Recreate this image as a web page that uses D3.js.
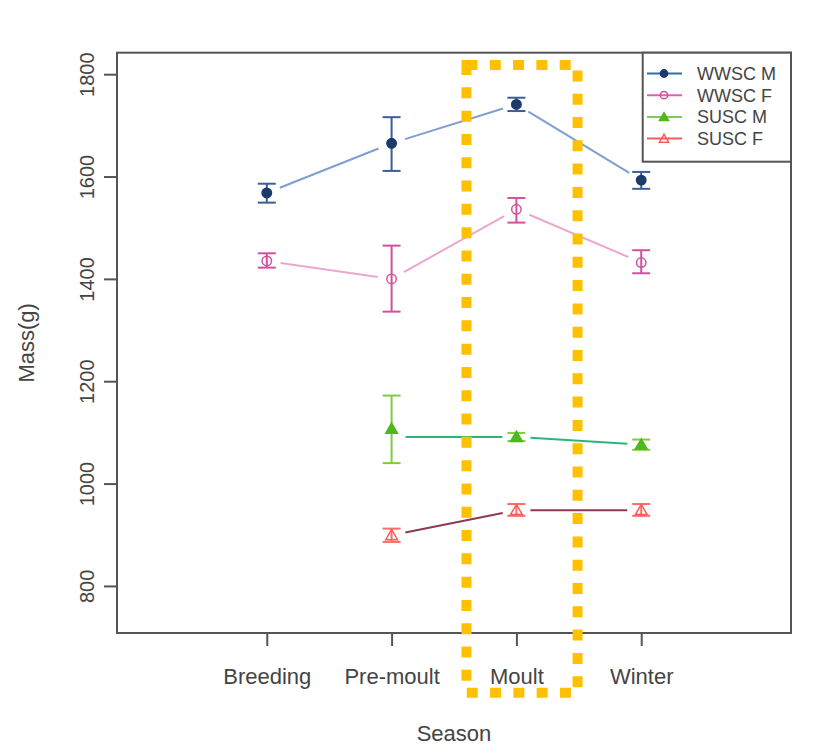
<!DOCTYPE html>
<html>
<head>
<meta charset="utf-8">
<script src="https://cdn.jsdelivr.net/npm/d3@7"></script>
<style>
	body { margin: 0; background: #fff; }
	text { font-family: "Liberation Sans", Arial, sans-serif; fill: #444; }
</style>
</head>
<body>
<div id="chart"></div>
<script>
// DATA
const seasons = ['Breeding', 'Pre-moult', 'Moult', 'Winter'];
const yTicks = [800, 1000, 1200, 1400, 1600, 1800];
const seriesNames = ['WWSC M', 'WWSC F', 'SUSC M', 'SUSC F'];
// means per season (null = not sampled)
const wwscM = [1568, 1665, 1741, 1593];
const wwscF = [1435, 1400, 1536, 1432];
const suscM = [null, 1107, 1091, 1076];
const suscF = [null, 899, 948, 948];
// error bar bounds
const wwscMLow = [1549, 1611, 1728, 1576];
const wwscMHigh = [1586, 1716, 1754, 1609];
const wwscFLow = [1422, 1336, 1510, 1411];
const wwscFHigh = [1450, 1465, 1558, 1456];
const suscMLow = [null, 1040, 1083, 1066];
const suscMHigh = [null, 1172, 1099, 1086];
const suscFLow = [null, 886, 937, 937];
const suscFHigh = [null, 912, 960, 960];
// connecting line values (SUSC M line starts at the moult level)
const suscMLine = [null, 1091, 1091, 1076];

const W = 813, H = 753;
const margin = { top: 52.7, right: 22, bottom: 120, left: 117 };

const svg = d3.select('#chart').append('svg')
	.attr('width', W).attr('height', H);

// R style axis ranges: xlim 0..5, ylim 750..1800, each padded by 4%
const x = d3.scaleLinear().domain([-0.2, 5.2]).range([margin.left, W - margin.right]);
const y = d3.scaleLinear().domain([708, 1842]).range([H - margin.bottom, margin.top]);

const series = [
	{ name: seriesNames[0], mean: wwscM, lo: wwscMLow, hi: wwscMHigh, line: wwscM,
		lineColor: '#7f9fd0', ptColor: '#1c3a6a', errColor: '#3a5f95', legColor: '#2f6f9f', shape: 'circle', filled: true },
	{ name: seriesNames[1], mean: wwscF, lo: wwscFLow, hi: wwscFHigh, line: wwscF,
		lineColor: '#eaa8cf', ptColor: '#d4509c', errColor: '#d4509c', legColor: '#e060b0', shape: 'circle', filled: false },
	{ name: seriesNames[2], mean: suscM, lo: suscMLow, hi: suscMHigh, line: suscMLine,
		lineColor: '#2fb37a', ptColor: '#4fb81a', errColor: '#80cc40', legColor: '#80c860', shape: 'triangle', filled: true },
	{ name: seriesNames[3], mean: suscF, lo: suscFLow, hi: suscFHigh, line: suscF,
		lineColor: '#8e3a4c', ptColor: '#ff5a5a', errColor: '#ff6a6a', legColor: '#ee6060', shape: 'triangle', filled: false }
];

const sx = i => x(i + 1);

// connecting lines with gaps round the points (type = "b")
const gap = 14;
series.forEach(s => {
	for (let i = 0; i < seasons.length - 1; i++) {
		if (s.line[i] === null || s.line[i + 1] === null) continue;
		const x1 = sx(i), y1 = y(s.line[i]), x2 = sx(i + 1), y2 = y(s.line[i + 1]);
		const len = Math.hypot(x2 - x1, y2 - y1);
		const ux = (x2 - x1) / len, uy = (y2 - y1) / len;
		svg.append('line')
			.attr('x1', x1 + ux * gap).attr('y1', y1 + uy * gap)
			.attr('x2', x2 - ux * gap).attr('y2', y2 - uy * gap)
			.attr('stroke', s.lineColor).attr('stroke-width', 2);
	}
});

// error bars
const cap = 9;
series.forEach(s => {
	const idx = d3.range(seasons.length).filter(i => s.mean[i] !== null);
	const g = svg.append('g').attr('stroke', s.errColor).attr('stroke-width', 2);
	idx.forEach(i => {
		g.append('line').attr('x1', sx(i)).attr('x2', sx(i)).attr('y1', y(s.lo[i])).attr('y2', y(s.hi[i]));
		g.append('line').attr('x1', sx(i) - cap).attr('x2', sx(i) + cap).attr('y1', y(s.lo[i])).attr('y2', y(s.lo[i]));
		g.append('line').attr('x1', sx(i) - cap).attr('x2', sx(i) + cap).attr('y1', y(s.hi[i])).attr('y2', y(s.hi[i]));
	});
});

function marker(g, s, cx, cy, scale = 1) {
	const sym = s.shape === 'circle' ? d3.symbolCircle : d3.symbolTriangle;
	const size = (s.shape === 'circle' ? 70 : 60) * scale;
	g.append('path')
		.attr('d', d3.symbol().type(sym).size(size)())
		.attr('transform', `translate(${cx},${cy + (s.shape === 'triangle' ? 1 : 0)})`)
		.attr('fill', s.filled ? s.ptColor : 'none')
		.attr('stroke', s.ptColor)
		.attr('stroke-width', 1.5);
}

// points
series.forEach(s => {
	const g = svg.append('g');
	s.mean.forEach((v, i) => { if (v !== null) marker(g, s, sx(i), y(v)); });
});

// box
svg.append('rect')
	.attr('x', margin.left).attr('y', margin.top)
	.attr('width', W - margin.right - margin.left)
	.attr('height', H - margin.bottom - margin.top)
	.attr('fill', 'none').attr('stroke', '#555').attr('stroke-width', 2);

// axes
const xAxis = svg.append('g')
	.attr('transform', `translate(0,${H - margin.bottom})`)
	.call(d3.axisBottom(x).tickValues([1, 2, 3, 4]).tickFormat(d => seasons[d - 1]).tickSize(13).tickPadding(22));
xAxis.select('.domain').remove();
xAxis.selectAll('line').attr('stroke', '#555').attr('stroke-width', 2);
xAxis.selectAll('text').style('font-size', '22px').style('fill', '#444');

const yAxis = svg.append('g')
	.attr('transform', `translate(${margin.left},0)`)
	.call(d3.axisLeft(y).tickValues(yTicks).tickSize(13).tickFormat(d3.format('d')));
yAxis.select('.domain').remove();
yAxis.selectAll('line').attr('stroke', '#555').attr('stroke-width', 2);
yAxis.selectAll('text')
	.attr('x', null).attr('dy', null)
	.attr('transform', 'translate(-30,0) rotate(-90)')
	.attr('text-anchor', 'middle')
	.attr('dy', '0.35em')
	.style('font-size', '20px').style('fill', '#444');

// axis titles
svg.append('text')
	.attr('x', (margin.left + W - margin.right) / 2).attr('y', 741)
	.attr('text-anchor', 'middle').style('font-size', '22px')
	.text('Season');
svg.append('text')
	.attr('transform', `translate(34,${(margin.top + H - margin.bottom) / 2}) rotate(-90)`)
	.attr('text-anchor', 'middle').style('font-size', '22px')
	.text('Mass(g)');

// highlight box round Moult
svg.append('rect')
	.attr('x', x(2.6)).attr('y', y(1818))
	.attr('width', x(3.49) - x(2.6)).attr('height', y(591) - y(1818))
	.attr('fill', 'none').attr('stroke', '#ffc000')
	.attr('stroke-width', 10).attr('stroke-dasharray', '11 12.3');

// legend
const leg = svg.append('g');
leg.append('rect')
	.attr('x', 642.7).attr('y', margin.top).attr('width', W - margin.right - 642.7).attr('height', 109)
	.attr('fill', '#fff').attr('stroke', '#555').attr('stroke-width', 2);
series.forEach((s, i) => {
	const ly = 73.5 + i * 21.7;
	leg.append('line').attr('x1', 647).attr('x2', 682).attr('y1', ly).attr('y2', ly)
		.attr('stroke', s.legColor).attr('stroke-width', 2);
	marker(leg, s, 664, ly, 0.6);
	leg.append('text').attr('x', 697).attr('y', ly).attr('dy', '0.36em')
		.style('font-size', '18px').text(s.name);
});
</script>
</body>
</html>
